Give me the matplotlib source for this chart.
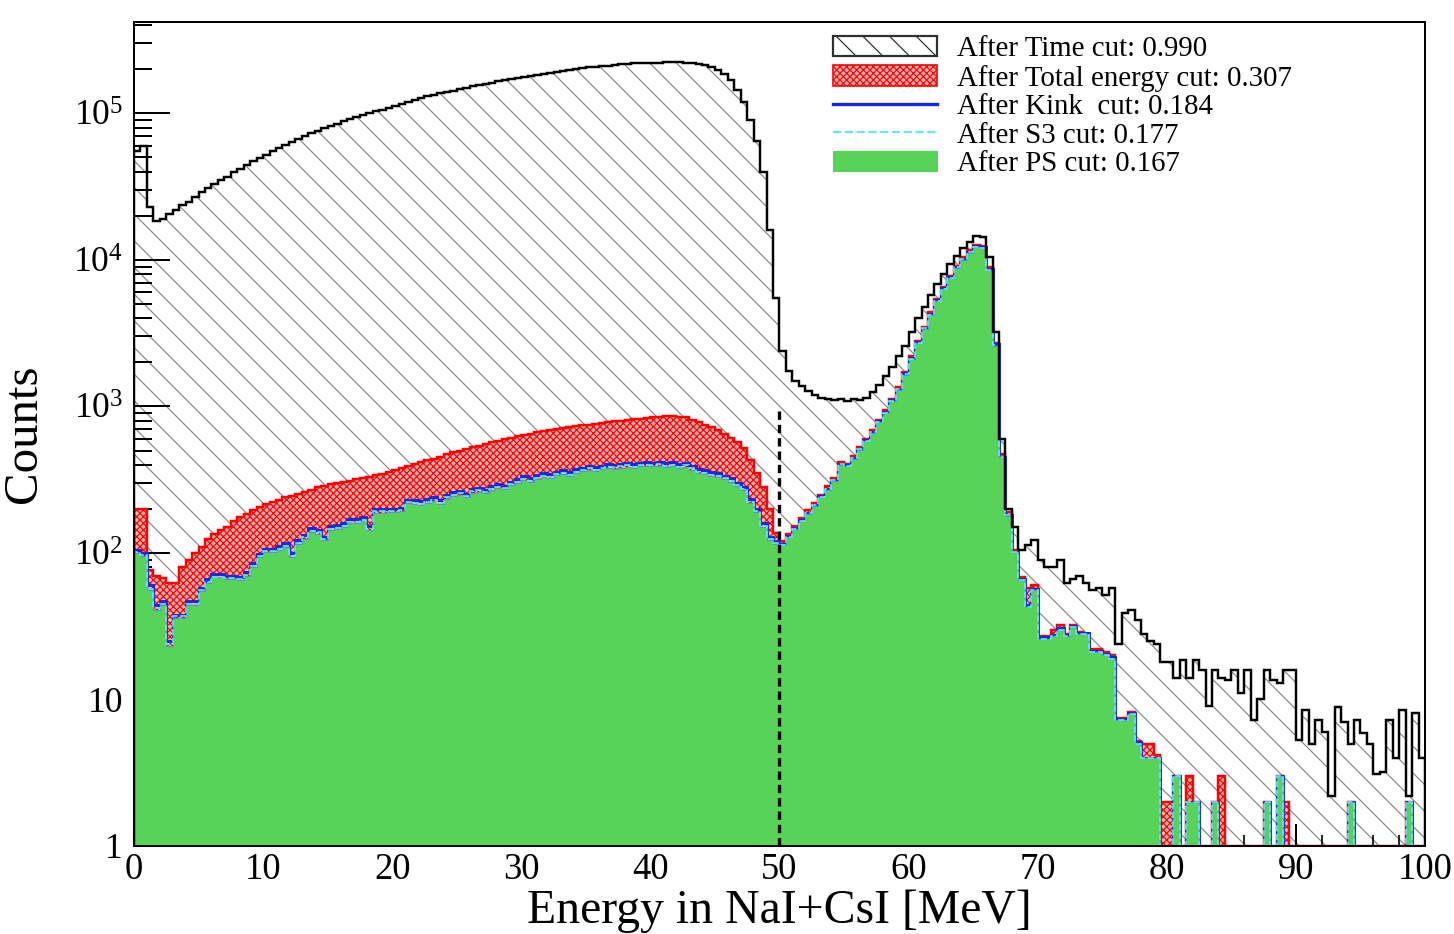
import numpy as np
import matplotlib
matplotlib.use('Agg')
import matplotlib.pyplot as plt
from matplotlib.patches import Patch
from matplotlib.lines import Line2D
from matplotlib.ticker import FixedLocator, FixedFormatter, NullFormatter

plt.rcParams['font.family'] = 'Liberation Serif'
plt.rcParams['mathtext.fontset'] = 'custom'
plt.rcParams['mathtext.rm'] = 'Liberation Serif'
plt.rcParams['mathtext.it'] = 'Liberation Serif:italic'
plt.rcParams['hatch.linewidth'] = 1.1

# 200 bins of 0.5 MeV, 0 - 100 MeV
edges = np.linspace(0, 100, 201)

# counts after each cut, one row per 10 MeV
time_cut = [
    5.5e4, 6.0e4, 2.3e4, 1.85e4, 1.9e4, 2.05e4, 2.2e4, 2.35e4, 2.5e4, 2.7e4,
    2.9e4, 3.1e4, 3.3e4, 3.5e4, 3.7e4, 3.95e4, 4.2e4, 4.45e4, 4.7e4, 4.95e4,
    5.2e4, 5.5e4, 5.8e4, 6.1e4, 6.4e4, 6.7e4, 7.0e4, 7.3e4, 7.6e4, 7.9e4,
    8.2e4, 8.5e4, 8.8e4, 9.1e4, 9.4e4, 9.7e4, 1.0e5, 1.03e5, 1.06e5, 1.09e5,
    1.13e5, 1.16e5, 1.20e5, 1.24e5, 1.28e5, 1.31e5, 1.34e5, 1.37e5, 1.40e5, 1.43e5,
    1.46e5, 1.50e5, 1.53e5, 1.56e5, 1.59e5, 1.62e5, 1.65e5, 1.68e5, 1.71e5, 1.74e5,
    1.77e5, 1.80e5, 1.83e5, 1.86e5, 1.89e5, 1.92e5, 1.95e5, 1.98e5, 2.0e5, 2.03e5,
    2.06e5, 2.08e5, 2.1e5, 2.12e5, 2.14e5, 2.16e5, 2.18e5, 2.19e5, 2.2e5, 2.21e5,
    2.22e5, 2.22e5, 2.23e5, 2.23e5, 2.23e5, 2.22e5, 2.2e5, 2.17e5, 2.13e5, 2.07e5,
    1.98e5, 1.85e5, 1.68e5, 1.45e5, 1.2e5, 9.0e4, 6.5e4, 4.0e4, 1.6e4, 5.5e3,
    2.4e3, 1.75e3, 1.5e3, 1.38e3, 1.28e3, 1.2e3, 1.15e3, 1.12e3, 1.1e3, 1.12e3,
    1.08e3, 1.12e3, 1.1e3, 1.15e3, 1.25e3, 1.4e3, 1.6e3, 1.85e3, 2.2e3, 2.6e3,
    3.2e3, 4.0e3, 4.8e3, 5.8e3, 6.8e3, 8.0e3, 9.3e3, 1.07e4, 1.2e4, 1.33e4,
    1.46e4, 1.44e4, 1.05e4, 3.2e3, 600, 200, 150, 105, 113, 122,
    90, 80, 80, 90, 62, 66, 70, 62, 56, 58,
    52, 58, 24, 39, 41, 35, 28, 25, 24, 18,
    18, 14, 18.6, 14, 18.6, 16, 9, 16, 14, 13.6,
    16, 11, 16, 7.2, 10, 16, 13.6, 13, 16, 16,
    5.3, 8.5, 5, 7.2, 6, 2.2, 8.9, 7, 5, 7.2,
    5.9, 5, 3.1, 3.2, 7.2, 4, 8.5, 2.2, 8.1, 4,
]

total_energy_cut = [
    200, 200, 76, 70, 67, 62, 62, 80, 90, 100,
    110, 125, 135, 143, 150, 165, 175, 185, 196, 205,
    215, 222, 230, 240, 245, 252, 260, 270, 280, 287,
    295, 300, 305, 312, 318, 325, 332, 340, 348, 356,
    366, 380, 392, 405, 418, 430, 440, 455, 470, 490,
    500, 510, 525, 540, 552, 568, 580, 598, 610, 630,
    640, 652, 665, 675, 690, 700, 712, 720, 735, 745,
    750, 762, 770, 780, 790, 800, 810, 818, 825, 830,
    840, 850, 860, 855, 850, 840, 810, 780, 750, 720,
    690, 650, 610, 570, 520, 430, 350, 280, 200, 137,
    120, 135, 152, 172, 195, 220, 250, 285, 325, 415,
    405, 460, 525, 600, 690, 810, 940, 1.12e3, 1.35e3, 1.72e3,
    2.2e3, 2.8e3, 3.5e3, 4.4e3, 5.4e3, 6.5e3, 7.8e3, 9.1e3, 1.04e4, 1.16e4,
    1.26e4, 1.25e4, 8.9e3, 2.7e3, 470, 190, 105, 68, 58, 60,
    27, 27, 30, 32, 28, 32, 29, 28, 22, 22,
    21, 20, 7.5, 7.5, 8.2, 5.2, 5, 5, 4.2, 2,
    2, 3, 0, 3, 2, 0, 0, 2, 3, 0,
    0, 0, 0, 0, 0, 2, 0, 3, 2, 0,
    0, 0, 0, 0, 0, 0, 0, 0, 2, 0,
    0, 0, 0, 0, 0, 0, 0, 2, 0, 0,
]

kink_cut = [
    105, 100, 60, 44, 47, 25, 38, 38, 47, 47,
    58, 66, 72, 72, 70, 70, 69, 74, 85, 99,
    107, 107, 111, 117, 100, 122, 133, 147, 143, 129,
    152, 154, 159, 170, 170, 175, 152, 199, 199, 201,
    201, 204, 231, 228, 225, 233, 239, 228, 249, 260,
    265, 254, 273, 278, 270, 286, 295, 288, 307, 318,
    334, 323, 339, 350, 345, 358, 366, 355, 371, 382,
    392, 384, 394, 403, 398, 405, 411, 403, 413, 416,
    413, 419, 408, 416, 403, 411, 392, 371, 366, 355,
    350, 337, 323, 302, 284, 233, 201, 159, 129, 120,
    115, 130, 148, 168, 188, 214, 244, 275, 316, 405,
    396, 447, 513, 590, 670, 792, 915, 1.1e3, 1.32e3, 1.68e3,
    2.14e3, 2.75e3, 3.45e3, 4.27e3, 5.3e3, 6.4e3, 7.6e3, 8.95e3, 1.02e4, 1.14e4,
    1.24e4, 1.22e4, 8.6e3, 2.65e3, 455, 182, 102, 66, 44, 57,
    26.5, 26.5, 27.5, 30.5, 27.5, 31.5, 28.5, 28.5, 21.5, 21.5,
    20.5, 19.5, 7.3, 7.3, 8.1, 5.1, 4, 4, 4, 0,
    0, 3, 0, 2, 2, 0, 0, 2, 0, 0,
    0, 0, 0, 0, 0, 2, 0, 3, 0, 0,
    0, 0, 0, 0, 0, 0, 0, 0, 2, 0,
    0, 0, 0, 0, 0, 0, 0, 2, 0, 0,
]

s3_cut = [
    102, 97, 57, 42, 45, 24, 37, 37, 45, 45,
    56, 63, 69, 69, 67, 67, 66, 71, 82, 96,
    103, 103, 107, 112, 96, 117, 128, 142, 138, 124,
    146, 148, 153, 163, 163, 168, 146, 192, 192, 194,
    194, 196, 222, 219, 216, 224, 230, 219, 240, 250,
    255, 245, 263, 267, 260, 275, 284, 277, 296, 306,
    321, 311, 326, 337, 332, 345, 352, 342, 357, 367,
    377, 369, 379, 388, 383, 390, 396, 388, 398, 400,
    398, 403, 393, 400, 388, 396, 377, 357, 352, 342,
    337, 324, 311, 291, 273, 224, 194, 153, 124, 117,
    114, 129, 146, 166, 186, 212, 242, 272, 313, 402,
    393, 443, 509, 585, 665, 786, 907, 1.09e3, 1.31e3, 1.66e3,
    2.12e3, 2.72e3, 3.42e3, 4.23e3, 5.25e3, 6.35e3, 7.55e3, 8.87e3, 1.01e4, 1.13e4,
    1.23e4, 1.21e4, 8.55e3, 2.62e3, 452, 181, 101, 65, 43, 56,
    26, 26, 27, 30, 27, 31, 28, 28, 21, 21,
    20, 19, 7.2, 7.2, 8, 5, 4, 4, 4, 0,
    0, 3, 0, 2, 2, 0, 0, 2, 0, 0,
    0, 0, 0, 0, 0, 2, 0, 3, 0, 0,
    0, 0, 0, 0, 0, 0, 0, 0, 2, 0,
    0, 0, 0, 0, 0, 0, 0, 2, 0, 0,
]

ps_cut = [
    100, 95, 56, 41, 44, 23, 36, 36, 44, 44,
    55, 62, 68, 68, 66, 66, 65, 70, 80, 94,
    101, 101, 105, 110, 94, 115, 125, 139, 135, 122,
    143, 145, 150, 160, 160, 165, 143, 188, 188, 190,
    190, 192, 218, 215, 212, 220, 225, 215, 235, 245,
    250, 240, 258, 262, 255, 270, 278, 272, 290, 300,
    315, 305, 320, 330, 325, 338, 345, 335, 350, 360,
    370, 362, 372, 380, 375, 382, 388, 380, 390, 392,
    390, 395, 385, 392, 380, 388, 370, 350, 345, 335,
    330, 318, 305, 285, 268, 220, 190, 150, 122, 115,
    113, 128, 145, 165, 185, 210, 240, 270, 310, 400,
    390, 440, 505, 580, 660, 780, 900, 1.08e3, 1.3e3, 1.65e3,
    2.1e3, 2.7e3, 3.4e3, 4.2e3, 5.2e3, 6.3e3, 7.5e3, 8.8e3, 1.0e4, 1.12e4,
    1.22e4, 1.2e4, 8.5e3, 2.6e3, 450, 180, 101, 65, 43, 56,
    26, 26, 27, 30, 27, 31, 28, 28, 21, 21,
    20, 19, 7.2, 7.2, 8, 5, 4, 4, 4, 0,
    0, 3, 0, 2, 2, 0, 0, 2, 0, 0,
    0, 0, 0, 0, 0, 2, 0, 3, 0, 0,
    0, 0, 0, 0, 0, 0, 0, 0, 2, 0,
    0, 0, 0, 0, 0, 0, 0, 2, 0, 0,
]

labels = ['After Time cut: 0.990', 'After Total energy cut: 0.307',
          'After Kink  cut: 0.184', 'After S3 cut: 0.177',
          'After PS cut: 0.167']

cut_energy = 50.0
ymin, ymax = 1.0, 4.2e5


def on_log(v):
    # empty bins sit on the bottom of the log axis, as ROOT draws them
    v = np.asarray(v, dtype=float)
    return np.where(v > 0, v, ymin)


green = '#57d357'
red_fill = '#ffb4b4'

fig = plt.figure(figsize=(1454 / 80, 934 / 80), dpi=80)
ax = fig.add_axes([134 / 1454, 88 / 934, 1291 / 1454, 824 / 934])
ax.set_yscale('log')

# after time cut: hatched, black outline
ax.stairs(on_log(time_cut), edges, baseline=ymin, fill=True,
          facecolor='white', edgecolor='#8a8a8a', hatch='\\', lw=0, zorder=1)
ax.stairs(on_log(time_cut), edges, baseline=ymin, color='black', lw=2.2, zorder=6)

# after total energy cut: red dotted fill
ax.stairs(on_log(total_energy_cut), edges, baseline=ymin, fill=True,
          facecolor=red_fill, edgecolor='red', hatch='xxxx', lw=0, zorder=2)
ax.stairs(on_log(total_energy_cut), edges, baseline=ymin, color='red', lw=2.2, zorder=3)

# after kink and S3 cuts: lines
ax.stairs(on_log(kink_cut), edges, baseline=ymin, color='#1428e6', lw=2.6, zorder=4)
ax.stairs(on_log(s3_cut), edges, baseline=ymin, color='#66e6f0', lw=1.5,
          ls='--', zorder=5)

# after PS cut: solid green
ax.stairs(on_log(ps_cut), edges, baseline=ymin, fill=True,
          facecolor=green, edgecolor=green, lw=0, zorder=4.5)
ax.stairs(on_log(ps_cut), edges, baseline=ymin, color='#4a9ad8', lw=1.0, zorder=4.6)

# cut position
ax.plot([cut_energy, cut_energy], [ymin, 1e3], color='black', ls=(0, (2.5, 1.5)),
        lw=3, zorder=7)

ax.set_xlim(0, 100)
ax.set_ylim(ymin, ymax)

ax.xaxis.set_major_locator(FixedLocator(np.arange(0, 101, 10)))
ax.xaxis.set_minor_locator(FixedLocator(np.arange(0, 101, 2)))
majors = [1, 10, 1e2, 1e3, 1e4, 1e5]
ax.yaxis.set_major_locator(FixedLocator(majors))
ax.yaxis.set_major_formatter(FixedFormatter(
    ['1', '10', '$10^{2}$', '$10^{3}$', '$10^{4}$', '$10^{5}$']))
minors = [m * 10 ** k for k in range(0, 6) for m in range(2, 10)]
ax.yaxis.set_minor_locator(FixedLocator(minors))
ax.yaxis.set_minor_formatter(NullFormatter())

ax.tick_params(axis='x', which='major', direction='in', length=20, width=1.8,
               labelsize=33, pad=6)
ax.tick_params(axis='x', which='minor', direction='in', length=10, width=1.5)
ax.tick_params(axis='y', which='major', direction='in', length=32, width=1.8,
               labelsize=32, pad=10)
ax.tick_params(axis='y', which='minor', direction='in', length=16, width=1.8)
for sp in ax.spines.values():
    sp.set_linewidth(1.8)
    sp.set_zorder(10)

ax.set_xlabel('Energy in NaI+CsI [MeV]', fontsize=43)
ax.set_ylabel('Counts', fontsize=44)
ax.xaxis.set_label_coords(0.5, -0.052)
ax.yaxis.set_label_coords(-0.068, 0.5)

handles = [
    Patch(facecolor='white', edgecolor='#303030', hatch='\\', lw=2),
    Patch(facecolor=red_fill, edgecolor='red', hatch='xxxx', lw=1.5),
    Line2D([], [], color='#1428e6', lw=3),
    Line2D([], [], color='#66e6f0', lw=2, ls='--'),
    Patch(facecolor=green, edgecolor=green),
]
ax.legend(handles, labels, loc='upper left', bbox_to_anchor=(0.5415, 0.983),
          frameon=False, fontsize=26, handlelength=3.6, handleheight=0.7,
          handletextpad=0.7, labelspacing=0.08, borderpad=0, borderaxespad=0)

fig.savefig('out.png', dpi=80)
